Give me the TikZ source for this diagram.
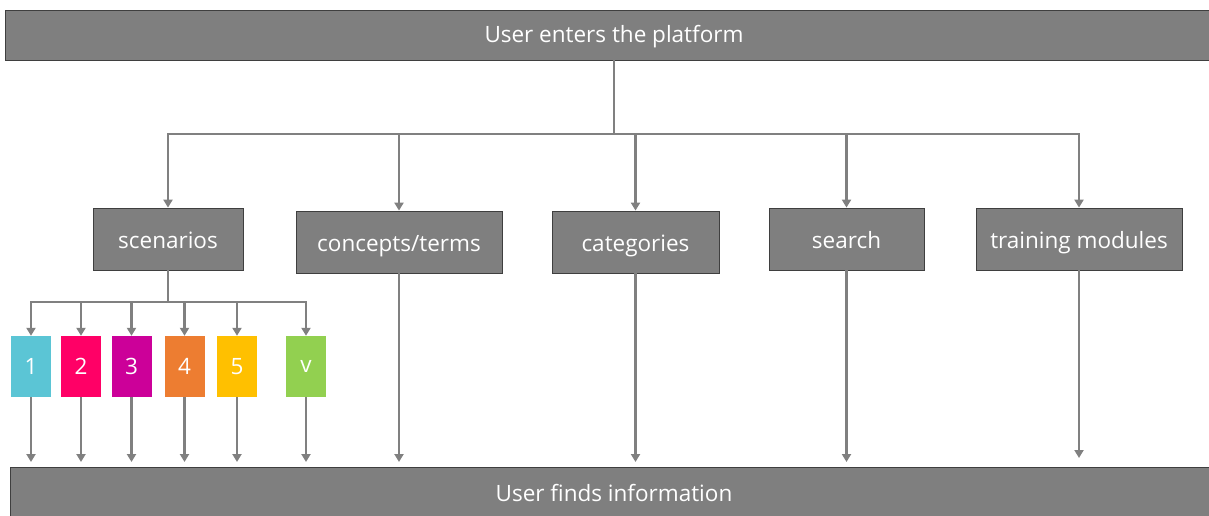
\documentclass[tikz,border=0pt]{standalone}
\usepackage{fontspec}
\setmainfont{Open Sans}
\usetikzlibrary{arrows.meta}
\definecolor{boxgray}{HTML}{7F7F7F}
\definecolor{linegray}{HTML}{808080}
\definecolor{edgegray}{HTML}{3F3F3F}
\definecolor{cA}{HTML}{5BC5D5}
\definecolor{cB}{HTML}{FF0066}
\definecolor{cC}{HTML}{CC0099}
\definecolor{cD}{HTML}{ED7D31}
\definecolor{cE}{HTML}{FFC000}
\definecolor{cF}{HTML}{92D050}
\tikzset{
  bar/.style={draw=edgegray, line width=0.8pt, fill=boxgray, text=white, font=\fontsize{22}{26}\selectfont, inner sep=0pt},
  gbox/.style={draw=edgegray, line width=0.8pt, fill=boxgray, text=white, font=\fontsize{22.5}{26}\selectfont, inner sep=0pt, minimum height=62pt, text height=20pt, text depth=2pt},
  cbox/.style={fill=#1, text=white, font=\fontsize{22.5}{26}\selectfont, inner sep=0pt, minimum width=40pt, minimum height=61pt},
  conn/.style={draw=linegray, line width=2.8pt},
  arr/.style={conn, -{Triangle[length=8pt,width=9pt]}}
}
\begin{document}
\begin{tikzpicture}[x=1pt,y=-1pt]
\useasboundingbox (0,0) rectangle (1209,515);
% bars
\node[bar, minimum width=1220pt, minimum height=50pt, anchor=north west] (top) at (5,10) {};
\node[font=\fontsize{22.5}{26}\selectfont, text=white] (toptext) at (614,36.5) {User enters the platform};
\node[bar, minimum width=1220pt, minimum height=60pt, anchor=north west] (bot) at (10,467) {};
\node[font=\fontsize{22.5}{26}\selectfont, text=white] (bottext) at (614,493) {User finds information};
% main boxes
\node[gbox, minimum width=150pt] (scen) at (168,239) {scenarios};
\node[gbox, minimum width=206pt] (conc) at (399,242) {concepts/terms};
\node[gbox, minimum width=167pt] (cat) at (635.5,242) {categories};
\node[gbox, minimum width=155pt] (srch) at (846.5,239) {search};
\node[gbox, minimum width=206pt] (train) at (1079,239) {training modules};
% coloured boxes
\node[cbox=cA] (b1) at (31,366.5) {1};
\node[cbox=cB] (b2) at (81,366.5) {2};
\node[cbox=cC] (b3) at (131.5,366.5) {3};
\node[cbox=cD] (b4) at (184.5,366.5) {4};
\node[cbox=cE] (b5) at (237,366.5) {5};
\node[cbox=cF] (bv) at (306,366.5) {v};
% top tree
\coordinate (t0) at (614,60);
\coordinate (tj) at (614,134);
\draw[conn] (t0) -- (tj);
\draw[arr] (tj) -| (scen.north);
\draw[arr] (tj) -| (conc.north);
\draw[arr] (tj) -| (cat.north);
\draw[arr] (tj) -| (srch.north);
\draw[arr] (tj) -| (train.north);
% scenario tree
\coordinate (sj) at (168,302);
\draw[conn] (scen.south) -- (sj);
\foreach \b in {b1,b2,b3,b4,b5,bv}{
  \draw[arr] (sj) -| (\b.north);
}
% down to bottom bar
\foreach \b in {b1,b2,b3,b4,b5,bv,conc,cat,srch}{
  \draw[arr, shorten >=5pt] (\b.south) -- (\b.south |- bot.north);
}
\draw[arr, shorten >=9pt] (train.south) -- (train.south |- bot.north);
\end{tikzpicture}
\end{document}
